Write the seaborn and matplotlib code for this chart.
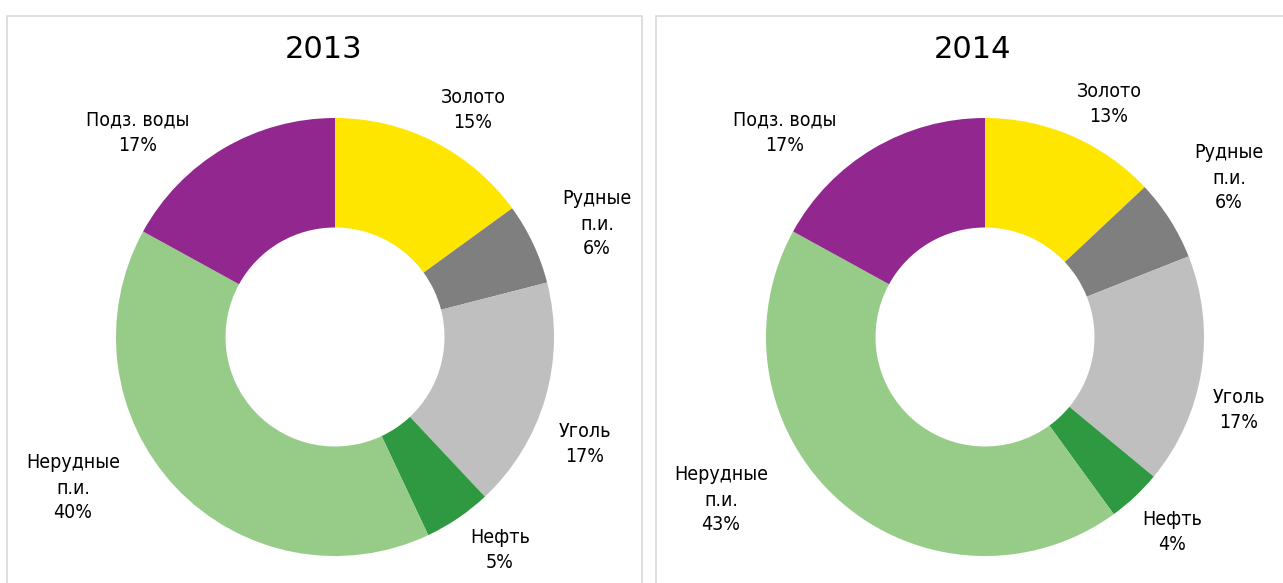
import matplotlib
matplotlib.use("Agg")
import matplotlib.pyplot as plt
import seaborn as sns
from matplotlib.patches import Rectangle

# data
categories = ["Золото", "Рудные\nп.и.", "Уголь", "Нефть", "Нерудные\nп.и.", "Подз. воды"]
years = ["2013", "2014"]
shares_2013 = [15, 6, 17, 5, 40, 17]
shares_2014 = [13, 6, 17, 4, 43, 17]
colors = ["#FFE600", "#7F7F7F", "#BFBFBF", "#2E9940", "#96CB88", "#92278F"]

# layout (pixel positions of the label centres, top-left origin)
W, H = 1283, 583
centers = [(335, 337), (985, 337)]
radius = 219
label_pos = [
    [(473, 110), (597, 224), (585, 444), (500, 550), (73, 488), (138, 133)],
    [(1109, 104), (1229, 178), (1239, 410), (1172, 532), (721, 500), (785, 133)],
]
title_pos = [(324, 50), (973, 50)]

sns.set_theme(style="white")
plt.rcParams["font.family"] = ["DejaVu Sans"]

fig = plt.figure(figsize=(W / 100, H / 100), dpi=100)
ax = fig.add_axes([0, 0, 1, 1])

# panel frames
ax.add_patch(Rectangle((7, -10), 635, H - 16 + 10, fill=False, ec="#D9D9D9", lw=1.2))
ax.add_patch(Rectangle((656, -10), 700, H - 16 + 10, fill=False, ec="#D9D9D9", lw=1.2))

for i, shares in enumerate([shares_2013, shares_2014]):
    cx, cy = centers[i]
    ax.pie(shares, colors=colors, startangle=90, counterclock=False,
           center=(cx, H - cy), radius=radius,
           wedgeprops=dict(width=radius * 0.5, linewidth=0))
    for cat, val, (lx, ly) in zip(categories, shares, label_pos[i]):
        ax.text(lx, H - ly, f"{cat}\n{val}%", ha="center", va="center",
                fontsize=14, linespacing=1.4, color="#000000",
                fontstretch="condensed")
    tx, ty = title_pos[i]
    ax.text(tx, H - ty, years[i], ha="center", va="center",
            fontsize=22, color="#000000")

ax.set_xlim(0, W)
ax.set_ylim(0, H)
ax.set_aspect("equal")
ax.axis("off")

fig.savefig("out.png", dpi=100)
